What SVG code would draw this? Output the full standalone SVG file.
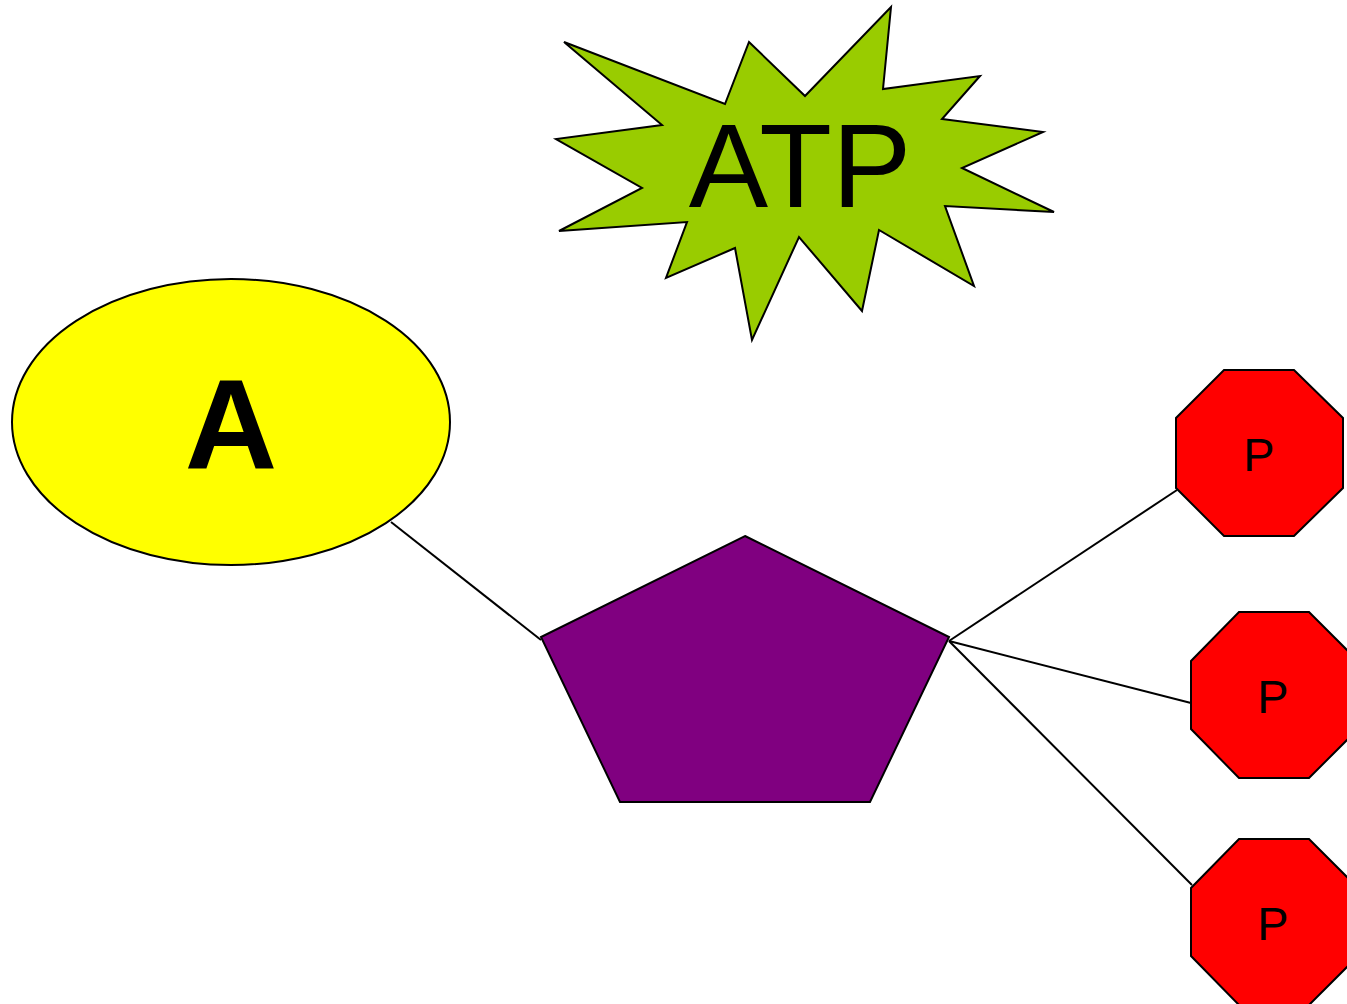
<svg xmlns="http://www.w3.org/2000/svg" width="1347" height="1004" viewBox="0 0 1347 1004">
<style>
.s{stroke:#000;stroke-width:2;stroke-linejoin:miter}
.t{font-family:"Liberation Sans",Arial,sans-serif;fill:#000;text-anchor:middle}
.oct{fill:#ff0000}
.c line{stroke:#000;stroke-width:2}
</style>
<rect width="1347" height="1004" fill="#fff"/>
<g id="connectors" class="c">
<line x1="391" y1="522" x2="541" y2="640"/>
<line x1="949" y1="641" x2="1177" y2="490"/>
<line x1="949" y1="641" x2="1191" y2="703"/>
<line x1="949" y1="641" x2="1192" y2="885"/>
</g>
<g id="atp">
<polygon class="s" fill="#99cc00" points="564,42 725,104 749,42 805,96 891,7 883,89 980,76 942,119 1043,132 962,168 1054,212 945,206 974,286 879,230 862,311 799,237 752,340 735,248 666,278 687,222 559,231 642,188 556,139 662,125"/>
<text class="t" x="800" y="207" font-size="119">ATP</text>
</g>
<g id="adenine">
<ellipse class="s" fill="#ffff00" cx="231" cy="422" rx="219" ry="143"/>
<text class="t" x="231" y="469" font-size="128" font-weight="bold">A</text>
</g>
<g id="ribose">
<polygon class="s" fill="#800080" points="745,536 949,637 870,802 620,802 541,637"/>
</g>
<g id="p1">
<polygon class="s oct" points="1224,370 1294,370 1343,418 1343,488 1294,536 1224,536 1176,488 1176,418"/>
<text class="t" x="1259" y="471" font-size="47">P</text>
</g>
<g id="p2">
<polygon class="s oct" points="1239,612 1309,612 1358,661 1358,729 1309,778 1239,778 1191,729 1191,661"/>
<text class="t" x="1273" y="713" font-size="47">P</text>
</g>
<g id="p3">
<polygon class="s oct" points="1239,839 1309,839 1358,888 1358,956 1309,1005 1239,1005 1191,956 1191,888"/>
<text class="t" x="1273" y="940" font-size="47">P</text>
</g>
</svg>
